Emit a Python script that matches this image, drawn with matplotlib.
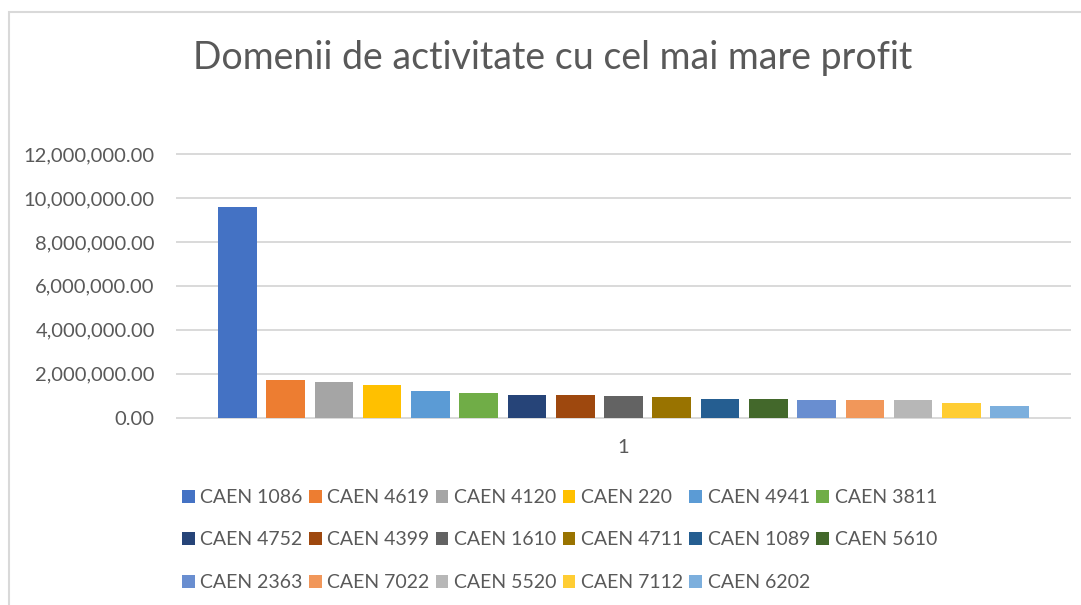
import numpy as np
import matplotlib.pyplot as plt
from matplotlib.patches import Rectangle
from matplotlib.ticker import FuncFormatter

plt.rcParams['font.family'] = ['Lato', 'DejaVu Sans']

# data
codes = ["CAEN 1086", "CAEN 4619", "CAEN 4120", "CAEN 220", "CAEN 4941", "CAEN 3811",
         "CAEN 4752", "CAEN 4399", "CAEN 1610", "CAEN 4711", "CAEN 1089", "CAEN 5610",
         "CAEN 2363", "CAEN 7022", "CAEN 5520", "CAEN 7112", "CAEN 6202"]
profit = [9610000, 1710000, 1620000, 1480000, 1210000, 1110000,
          1020000, 1020000, 980000, 930000, 840000, 840000,
          800000, 800000, 800000, 660000, 520000]
colors = ["#4472C4", "#ED7D31", "#A5A5A5", "#FFC000", "#5B9BD5", "#70AD47",
          "#264478", "#9E480E", "#636363", "#997300", "#255E91", "#43682B",
          "#698ED0", "#F1975A", "#B7B7B7", "#FFCD33", "#7CAFDD"]
title = "Domenii de activitate cu cel mai mare profit"
category = "1"

txt = "#595959"
grid = "#D9D9D9"

fig = plt.figure(figsize=(10.81, 6.05), dpi=100)
ax = fig.add_axes([177/1081, 1 - 417.7/605, (1070-177)/1081, (417.7-154)/605])

x = np.arange(len(profit))
bars = ax.bar(x, profit, width=0.8, color=colors, zorder=3)

ax.set_xlim(-1.25, 17.25)
ax.set_ylim(0, 12000000)
ax.set_yticks(np.arange(0, 12000001, 2000000))
ax.yaxis.set_major_formatter(FuncFormatter(lambda v, p: f"{v:,.2f}"))
ax.set_xticks([8])
ax.set_xticklabels([category])
ax.tick_params(axis='y', length=0, pad=16, labelsize=14.5, labelcolor=txt)
ax.tick_params(axis='x', length=0, pad=15, labelsize=14.5, labelcolor=txt)
ax.grid(axis='y', color=grid, linewidth=1.4, zorder=0)
ax.set_axisbelow(True)
for s in ax.spines.values():
    s.set_visible(False)
for gl in ax.get_ygridlines():
    gl.set_clip_on(False)

fig.text(553/1081, 1 - 58/605, title, ha='center', va='center', fontsize=27, color=txt)

# chart border
fig.patches.append(Rectangle((9/1081, -0.1), 1.2, 1.1 - 12/605, transform=fig.transFigure,
                             fill=False, edgecolor=grid, linewidth=1.5))

# excel fills legend row by row, matplotlib column by column
order = [i + 6*r for i in range(6) for r in range(3) if i + 6*r < len(codes)]
handles = [bars[i] for i in order]
labels = [codes[i] for i in order]
fig.legend(handles, labels, ncol=6, loc='upper left', bbox_to_anchor=(182/1081, 1 - 489/605),
           frameon=False, fontsize=14, labelcolor=txt, borderpad=0, borderaxespad=0,
           handlelength=0.65, handleheight=0.65, handletextpad=0.3, columnspacing=0.31,
           labelspacing=1.31)

fig.savefig("out.png", dpi=100)
